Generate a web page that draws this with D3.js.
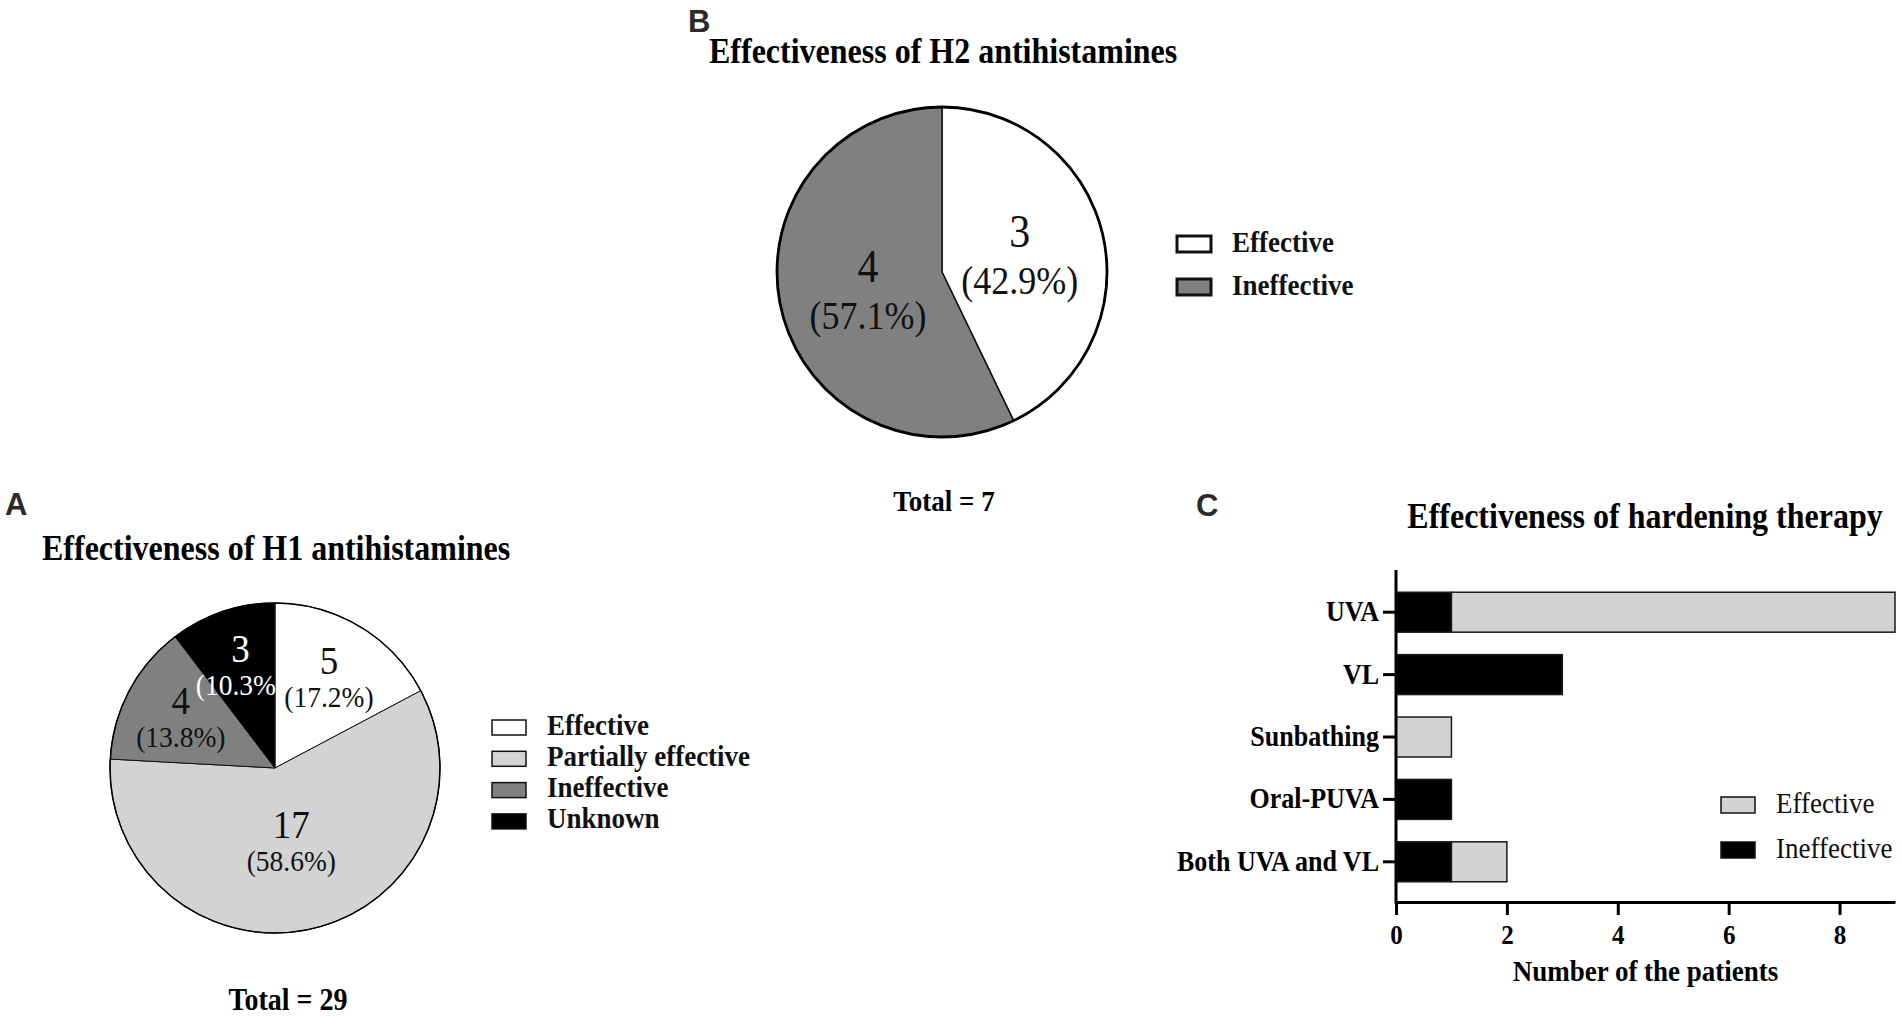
<!DOCTYPE html>
<html><head><meta charset="utf-8">
<script src="https://cdn.jsdelivr.net/npm/d3@7"></script>
<style>
body{margin:0;background:#fff}
svg{display:block}
text{font-family:"Liberation Serif","Times New Roman",serif}
</style>
</head><body>
<svg id="chart" width="1902" height="1017"></svg>
<script>
// ---------- data ----------
const h1Categories = ["Effective", "Partially effective", "Ineffective", "Unknown"];
const h1Values = [5, 17, 4, 3];
const h2Categories = ["Effective", "Ineffective"];
const h2Values = [3, 4];
const therapyCategories = ["UVA", "VL", "Sunbathing", "Oral-PUVA", "Both UVA and VL"];
const therapyIneffective = [1, 3, 0, 1, 1];
const therapyEffective = [8, 0, 1, 0, 1];
const xTickValues = [0, 2, 4, 6, 8];

const fills = {"Effective": "#ffffff", "Partially effective": "#d3d3d3", "Ineffective": "#808080", "Unknown": "#000000"};
const barFills = {"Effective": "#d3d3d3", "Ineffective": "#000000"};
const STRETCH = 1.1; // serif glyphs in the figure are slightly tall

const svg = d3.select("#chart");
svg.append("rect").attr("width", 1902).attr("height", 1017).attr("fill", "#fff");

// serif text helper: baseline at (x,y), vertically stretched
function stext(parent, x, y, str, size, opts) {
  opts = opts || {};
  return parent.append("text")
    .attr("transform", `translate(${x},${y}) scale(1,${STRETCH})`)
    .attr("text-anchor", opts.anchor || "start")
    .style("font-size", size + "px")
    .style("font-weight", opts.bold ? "bold" : "normal")
    .attr("fill", opts.fill || "#000")
    .text(str);
}

// panel letters
function panelLetter(t, x, y) {
  svg.append("text").attr("x", x).attr("y", y).text(t)
    .style("font-family", "'Liberation Sans', Arial, sans-serif")
    .style("font-weight", "bold").style("font-size", "31px").attr("fill", "#2a2a2a");
}
panelLetter("A", 5, 515);
panelLetter("B", 688, 32);
panelLetter("C", 1196, 516);

// ---------- pie ----------
function labelPos(d, r) {
  const a = d.endAngle - d.startAngle;
  const dist = Math.max(4 * r * Math.sin(a / 2) / (3 * a), 0.46 * r);
  const m = (d.startAngle + d.endAngle) / 2;
  return [dist * Math.sin(m), -dist * Math.cos(m)];
}
function drawPie(opts) {
  const data = opts.cats.map((c, i) => ({cat: c, v: opts.vals[i]}));
  const total = d3.sum(opts.vals);
  const arcs = d3.pie().sort(null).value(d => d.v)(data);
  const arc = d3.arc().innerRadius(0).outerRadius(opts.r);
  const g = svg.append("g").attr("transform", `translate(${opts.cx},${opts.cy})`);
  g.selectAll("path.slice").data(arcs).join("path")
    .attr("class", "slice")
    .attr("d", arc)
    .attr("fill", d => fills[d.data.cat])
    .attr("stroke", "#111").attr("stroke-width", opts.innerStroke).attr("stroke-linejoin", "round");
  g.append("circle").attr("r", opts.r).attr("fill", "none")
    .attr("stroke", "#000").attr("stroke-width", opts.outerStroke);
  arcs.forEach(d => {
    const c = labelPos(d, opts.r);
    const col = d.data.cat === "Unknown" ? "#fff" : "#111";
    stext(g, c[0], c[1] + opts.numDy, d.data.v, opts.numSize, {anchor: "middle", fill: col});
    stext(g, c[0], c[1] + opts.pctDy, "(" + (d.data.v / total * 100).toFixed(1) + "%)", opts.pctSize, {anchor: "middle", fill: col});
  });
  return total;
}

function legend(cats, colorMap, x, y, step, boxW, boxH, stroke, fontSize, bold) {
  const g = svg.append("g");
  cats.forEach((c, i) => {
    g.append("rect").attr("x", x).attr("y", y + i * step).attr("width", boxW).attr("height", boxH)
      .attr("fill", colorMap[c]).attr("stroke", "#111").attr("stroke-width", stroke);
    stext(g, x + boxW + 21, y + i * step + boxH - 0.5, c, fontSize, {bold: bold, fill: "#111"});
  });
}

// Panel A
stext(svg, 42, 560, "Effectiveness of H1 antihistamines", 32, {bold: true});
const totalA = drawPie({cats: h1Categories, vals: h1Values, cx: 275, cy: 768, r: 165,
  innerStroke: 1, outerStroke: 1.5, numSize: 37, pctSize: 27.5, numDy: -4, pctDy: 29});
legend(h1Categories, fills, 492, 720, 31.3, 34, 15, 1.5, 27, true);
stext(svg, 288, 1010, "Total = " + totalA, 28, {bold: true, anchor: "middle"});

// Panel B
stext(svg, 709, 63, "Effectiveness of H2 antihistamines", 32, {bold: true});
const totalB = drawPie({cats: h2Categories, vals: h2Values, cx: 942, cy: 272, r: 165,
  innerStroke: 1.5, outerStroke: 2.8, numSize: 42, pctSize: 36, numDy: -7, pctDy: 40});
legend(h2Categories, fills, 1177, 236, 43, 34, 16, 3, 27, true);
stext(svg, 944, 511, "Total = " + totalB, 27, {bold: true, anchor: "middle"});

// ---------- Panel C : stacked horizontal bars ----------
stext(svg, 1645, 528, "Effectiveness of hardening therapy", 32, {bold: true, anchor: "middle"});
const x = d3.scaleLinear().domain([0, 9]).range([1396, 1895]);
const y = d3.scaleBand().domain(therapyCategories).range([581, 893]).paddingInner(0.36).paddingOuter(0.18);
const axisTop = 570, axisBottomY = 902;

const stackData = therapyCategories.map((c, i) => ({cat: c, Ineffective: therapyIneffective[i], Effective: therapyEffective[i]}));
const series = d3.stack().keys(["Ineffective", "Effective"])(stackData);
const gBars = svg.append("g");
series.forEach(s => {
  gBars.selectAll(null).data(s.filter(d => d[1] - d[0] > 0)).join("rect")
    .attr("x", d => x(d[0])).attr("width", d => x(d[1]) - x(d[0]))
    .attr("y", d => y(d.data.cat)).attr("height", y.bandwidth())
    .attr("fill", barFills[s.key]).attr("stroke", "#1a1a1a").attr("stroke-width", 1.5);
});

// x axis
const gx = svg.append("g").attr("transform", `translate(0,${axisBottomY})`)
  .call(d3.axisBottom(x).tickValues(xTickValues).tickSize(13).tickSizeOuter(0));
gx.select(".domain").attr("stroke-width", 3).attr("stroke", "#000");
gx.selectAll(".tick line").attr("stroke-width", 3).attr("stroke", "#000");
gx.selectAll(".tick text")
  .attr("y", null).attr("dy", null)
  .attr("transform", `translate(0,42) scale(1,${STRETCH})`)
  .style("font-family", "'Liberation Serif', serif")
  .style("font-size", "25px").style("font-weight", "bold").attr("fill", "#000");

// y axis
const gy = svg.append("g").attr("transform", `translate(${x(0)},0)`)
  .call(d3.axisLeft(y).tickSize(13).tickSizeOuter(0));
gy.select(".domain").remove();
gy.append("line").attr("x1", 0).attr("x2", 0).attr("y1", axisTop).attr("y2", axisBottomY + 1.5)
  .attr("stroke", "#000").attr("stroke-width", 3);
gy.selectAll(".tick line").attr("stroke-width", 3).attr("stroke", "#000");
gy.selectAll(".tick text")
  .attr("x", null).attr("dy", null)
  .attr("transform", `translate(-17,9) scale(1,${STRETCH})`)
  .style("font-family", "'Liberation Serif', serif")
  .style("font-size", "26px").style("font-weight", "bold").attr("fill", "#000");

stext(svg, (x.range()[0] + x.range()[1]) / 2, 981, "Number of the patients", 27, {bold: true, anchor: "middle"});

legend(["Effective", "Ineffective"], barFills, 1721, 797, 45, 34, 16, 1.5, 27, false);
</script>
</body></html>
